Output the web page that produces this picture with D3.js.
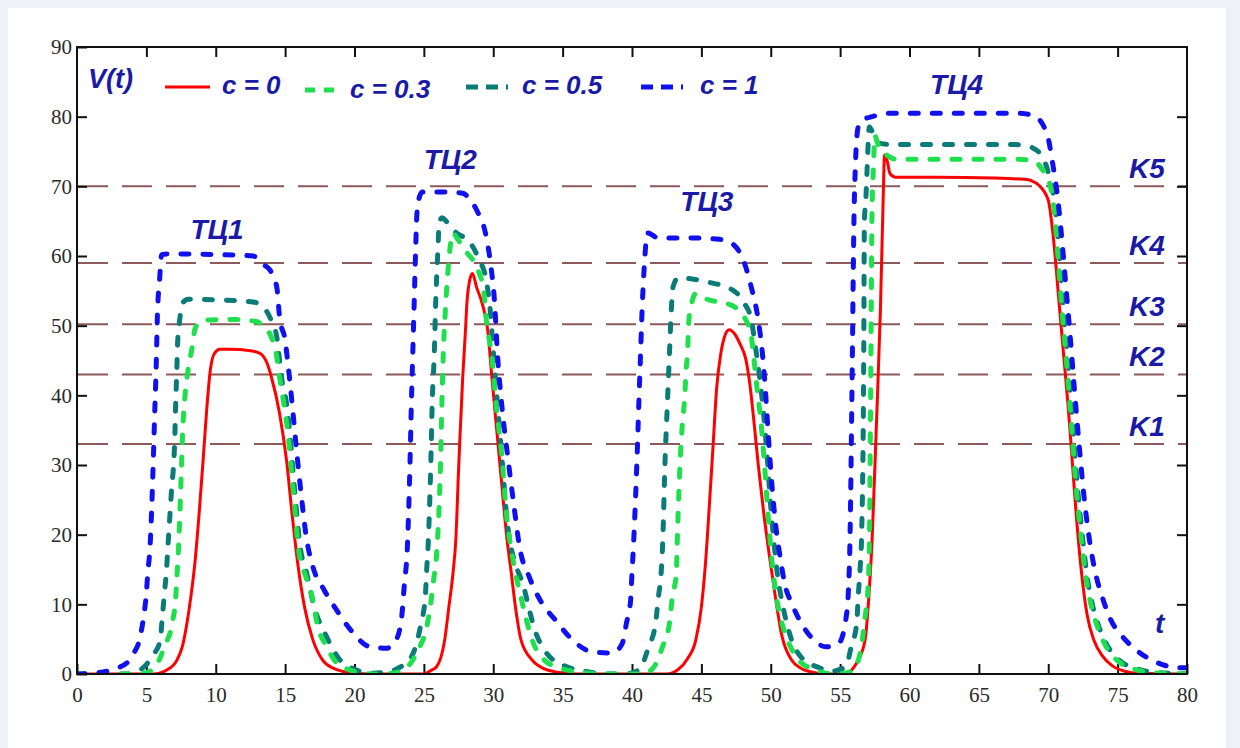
<!DOCTYPE html>
<html><head><meta charset="utf-8">
<script src="https://cdn.jsdelivr.net/npm/d3@7"></script>
<style>
html,body{margin:0;padding:0;background:#eef2f8;}
svg{display:block;}
</style></head>
<body>
<svg id="chart" width="1240" height="748"></svg>
<script>
// ---- data ----
const seriesNames = ["c = 0", "c = 0.3", "c = 0.5", "c = 1"];

const tRed = [0,5.5,6.5,7.2,7.6,7.9,8.2,8.5,8.8,9.1,9.35,9.6,9.9,10.3,11,12.5,13.2,13.7,14.0,14.6,15.1,15.5,15.9,16.4,17.0,17.7,18.5,19.1,20,21,
  25.0,25.5,25.9,26.5,26.8,27.1,27.3,27.5,27.6,27.8,28.0,28.1,28.3,28.5,28.8,29.2,29.6,29.9,30.3,30.6,31.0,31.3,31.6,32.0,32.8,33.6,34.5,36,
  42.5,43.3,44.0,44.6,45.0,45.3,45.6,45.85,46.1,46.4,46.7,47.0,47.4,47.8,48.2,48.5,48.8,49.1,49.5,49.9,50.3,50.8,51.5,52.2,52.9,54,
  55.4,56.0,56.3,56.8,57.1,57.3,57.6,57.9,58.1,58.2,58.35,58.6,59.0,62,66,68.3,68.8,69.3,70.0,70.4,70.75,71.1,71.45,71.75,72.05,72.4,72.8,73.3,73.9,74.6,75.5,76.5,80];
const vRed = [0,0,0.6,2,4,7,11,16,23,31,38,43.5,46,46.6,46.6,46.4,46,44.6,42.7,37.4,30.7,23,16,9.6,4.9,2,0.8,0.4,0.1,0,
  0,0.5,1,4.9,9.6,14.5,19.2,29.3,34,42.6,49.4,53.2,56.5,57.5,55.5,53.2,49.4,42.6,34,27.5,19.2,14.5,9.6,4.9,2,0.8,0.3,0,
  0,0.6,2.2,4.9,9.6,16,25,33,41,46,48.6,49.4,48.8,47.3,45.2,41.5,36,30,23,17,11.5,5.5,2,0.8,0.3,0,
  0,1,2,4.9,12,19,35,52,68,74.5,74,71.8,71.3,71.3,71.2,71.0,70.8,70.2,68,62,54,46,38,30,22,14.5,8.5,4.8,2.6,1.2,0.4,0.1,0];

const tGreen = [0,4.5,5.0,5.6,6.3,6.9,7.1,7.2,7.3,7.5,7.6,7.8,8.0,8.3,8.5,8.9,9.3,11,12.9,13.5,14.0,14.4,14.6,14.9,15.2,15.6,16.0,16.5,17.0,17.3,18.0,18.7,19.5,20.1,21,22,
  23.2,24.2,24.7,25.2,25.5,25.7,25.9,26.2,26.3,26.4,26.55,26.65,26.8,27.1,27.4,28.1,28.8,29.3,29.5,29.9,30.2,30.6,31.0,31.3,31.6,32.0,32.4,32.8,33.5,34.7,36.2,38,
  40.5,41.4,42.2,42.7,42.9,43.2,43.25,43.5,43.65,43.8,43.9,44.0,44.1,44.3,44.6,45.4,46.5,47.2,48.1,48.6,48.8,49.0,49.3,49.55,49.8,50.05,50.3,50.6,51.0,51.5,52.1,52.9,53.8,54.5,
  55.5,56.1,56.6,56.8,57.0,57.1,57.2,57.3,57.4,57.5,57.7,58.0,58.5,59,67.6,68.5,69.1,69.5,70.1,70.4,70.7,71.0,71.35,71.7,72.0,72.35,72.7,73.1,73.6,74.3,75.2,76.2,77.5,80];
const vGreen = [0,0,0.2,0.9,3.9,7.7,10.6,13.9,17.4,28,34,40.3,43.6,46.9,49.5,50.6,50.8,50.9,50.6,49.8,48.4,45.5,42.6,38.9,34.6,26,17.4,13.9,10.6,7.3,3.9,1.6,0.7,0.3,0.05,0,
  0.3,2,3.9,6.7,10.2,13.5,16.8,30.3,38.9,46,52.2,55.5,59.4,63.3,62.5,60.5,58.4,55.1,50.8,45.5,38.9,31.7,22,17.8,14.5,11,7.7,4.9,2.4,0.9,0.3,0,
  0,0.6,3.9,7.3,11,14.5,18.2,31.7,36.4,39.7,43.6,46,50.8,53.2,54.6,53.8,53.3,52.9,51.2,48.4,45,41.2,36,30,23,17,12.5,9,6,3.6,1.8,0.8,0.2,0,
  0.2,1,4.9,8.2,12.1,17.8,40,66.6,72.7,77.3,76.2,75.2,74.3,73.9,73.9,73.8,73.5,72.6,70.4,67,60,52,44,35,27,20,14,9.8,6.5,3.5,1.6,0.7,0.2,0];

const tTeal = [0,3.8,4.5,5.1,5.6,6.0,6.15,6.3,6.45,6.55,6.8,7.05,7.1,7.2,7.25,7.4,7.6,8.0,10,12.7,13.5,13.9,14.4,14.6,14.8,15.1,15.3,15.7,16.1,16.5,17.1,18.0,18.8,20.1,21,
  22.3,23.7,24.4,24.8,25.1,25.2,25.3,25.5,25.6,25.75,25.85,26.0,26.1,26.3,26.7,27.3,28.3,29.0,29.5,29.8,30.0,30.3,30.6,31.0,31.2,31.5,32.2,32.6,33.0,33.7,35.0,36.9,38.5,39.5,
  40.5,41.2,41.7,41.9,42.1,42.2,42.4,42.5,42.6,42.7,42.8,42.95,43.3,43.6,45.8,47.0,48.1,48.6,48.9,49.2,49.5,49.75,50.0,50.25,50.5,50.8,51.1,51.5,52.2,53.5,54.3,
  55.4,55.8,56.2,56.3,56.45,56.55,56.7,56.75,56.85,56.95,57.1,57.4,57.8,58.7,67.6,68.2,68.8,69.4,69.9,70.2,70.5,70.8,71.1,71.45,71.8,72.1,72.45,72.8,73.2,73.7,74.4,75.3,76.3,77.5,80];
const vTeal = [0,0,0.5,1.6,3,4.9,8.2,11.6,14.9,18.2,26,34,37.9,44,47.5,50.8,53.2,53.8,53.7,53.4,52.5,51.2,48.4,45,41.7,38.9,35.4,26,18,14.9,9.6,5.3,2.4,0.6,0.1,
  0.3,1.6,3.9,7.3,11,14.9,18.2,30.3,38.9,46,53.2,60.4,64.5,65.5,64.8,63.4,62,59.4,56.5,51.8,46.5,38.9,31.7,22,19,16.4,12.5,9.2,6.3,3.4,1.3,0.3,0,0,
  0.6,3.9,7.3,11,14.5,18.2,31.7,36.4,41.2,46,50.8,55.5,56.8,56.8,56.1,55.4,53.2,50.8,46.9,42.6,37,31,24,18.5,14,10.5,7.7,4.9,2.4,0.9,0.4,
  1,3.9,7.3,11,15.4,20,45,65.1,68,72.7,78.5,77.5,76.2,76,76,75.9,75.6,74.7,72.7,70.4,67,60,52,44,35,27,20,14,9.8,6.5,3.6,1.7,0.8,0.3,0];

const tBlue = [0,1.0,1.9,2.8,3.6,4.1,4.5,4.8,5.0,5.1,5.25,5.5,5.6,5.7,5.8,5.95,6.1,6.5,10,12.7,13.5,13.9,14.4,14.6,15.0,15.2,15.5,15.8,16.2,16.5,17.0,17.8,18.7,19.9,21.1,22.3,
  23.0,23.4,23.6,23.8,24.0,24.1,24.2,24.3,24.4,24.5,24.7,24.9,26.5,27.8,28.3,28.8,29.5,29.8,30.1,30.3,30.6,31.1,31.5,31.9,32.6,33.5,34.5,35.7,37.1,38.6,
  39.3,39.6,39.9,40.0,40.1,40.4,40.5,40.6,40.7,40.8,40.9,41.1,41.9,44,46.3,47.2,48.1,48.6,49.1,49.4,49.6,49.8,50.05,50.35,50.7,51.0,51.5,52.2,52.9,54.0,
  54.9,55.4,55.6,55.7,55.85,56.0,56.1,56.3,56.6,57.3,58.7,67.6,68.9,69.9,70.3,70.7,71.0,71.3,71.6,71.9,72.2,72.55,72.95,73.4,73.9,74.5,75.3,76.5,77.9,79.4,80];
const vBlue = [0,0.1,0.3,0.8,1.6,3,4.9,8.2,11.6,14.5,17.8,30.7,37.4,43.6,51.8,56.5,60.2,60.3,60.2,60,58.7,58,55.5,51.2,47.9,44.6,38.9,32.6,25,20,15.4,12.1,9.2,5.9,3.9,3.7,
  4.9,8.2,13,17.8,30.3,38.9,46,53.2,60.4,66.1,68.6,69.2,69.2,69,68.2,66.6,62.7,59,53.2,46,38.9,30.3,24,18.2,13.9,10.2,7.7,4.9,3.2,3,
  4.4,7.3,10.6,14.5,18.2,33.1,39.3,45,50.8,55.5,59,63.3,62.6,62.6,62.4,61.8,59,55.5,50.8,46,41.2,35,28,21.5,16.5,13,10.2,7.3,5.3,3.9,
  4.4,7.7,12.1,18.2,40,65.6,73,78.5,79.5,80,80.5,80.5,80.2,77.6,73.5,68,62,55,48,40.5,33.5,26,19.5,14.5,11,7.8,5.5,3.2,1.6,0.9,0.9];

const kValues = [33, 43, 50.2, 59, 70];
const kLabels = ["K1", "K2", "K3", "K4", "K5"];
const cycleLabels = ["ТЦ1", "ТЦ2", "ТЦ3", "ТЦ4"];
const cycleT = [10.2, 27.0, 45.5, 63.5];
const cycleV = [62.5, 72.5, 66.5, 83.3];
const xTicks = [0,5,10,15,20,25,30,35,40,45,50,55,60,65,70,75,80];
const yTicks = [0,10,20,30,40,50,60,70,80,90];

// ---- drawing ----
const svg = d3.select("#chart");
const W = 1240, H = 748;
const L = 77, R = 1187, T = 47, B = 674;
const textBlue = "#1a1aa6";

svg.append("rect").attr("x",0).attr("y",0).attr("width",W).attr("height",H).attr("fill","#eef2f8");
svg.append("rect").attr("x",8).attr("y",8).attr("width",1218).attr("height",H-8).attr("fill","#ffffff");

const x = d3.scaleLinear().domain([0,80]).range([L,R]);
const y = d3.scaleLinear().domain([0,90]).range([B,T]);

svg.append("clipPath").attr("id","plotclip")
  .append("rect").attr("x",L).attr("y",T-4).attr("width",R-L).attr("height",B-T+4);

// threshold lines
svg.append("g").selectAll("line").data(kValues).join("line")
  .attr("x1",L+1).attr("x2",R-1)
  .attr("y1",d=>y(d)).attr("y2",d=>y(d))
  .attr("stroke","#8c5a5a").attr("stroke-width",2)
  .attr("stroke-dasharray","30,14");

// axes
function styleAxis(g){
  g.select(".domain").remove();
  g.selectAll(".tick line").attr("stroke","#111").attr("stroke-width",2);
  g.selectAll(".tick text").attr("font-family","'Liberation Serif','Times New Roman',serif")
    .attr("font-size",21).attr("fill","#2a2a2a");
}
svg.append("g").attr("transform",`translate(0,${B})`)
  .call(d3.axisBottom(x).tickValues(xTicks).tickSizeInner(-10).tickSizeOuter(0).tickPadding(13))
  .call(styleAxis);
svg.append("g").attr("transform",`translate(0,${T})`)
  .call(d3.axisTop(x).tickValues(xTicks.slice(1,-1)).tickSizeInner(-10).tickSizeOuter(0).tickFormat(""))
  .call(styleAxis);
svg.append("g").attr("transform",`translate(${L},0)`)
  .call(d3.axisLeft(y).tickValues(yTicks).tickSizeInner(-10).tickSizeOuter(0).tickPadding(5))
  .call(styleAxis);
svg.append("g").attr("transform",`translate(${R},0)`)
  .call(d3.axisRight(y).tickValues(yTicks.slice(1,-1)).tickSizeInner(-10).tickSizeOuter(0).tickFormat(""))
  .call(styleAxis);

// series
const series = [
  {t:tRed,  v:vRed,  color:"#ff0000", width:3, dash:null},
  {t:tTeal, v:vTeal, color:"#0b7b78", width:5, dash:"8,14"},
  {t:tGreen,v:vGreen,color:"#1ee04c", width:5, dash:"8,14"},
  {t:tBlue, v:vBlue, color:"#1010f0", width:5, dash:"8,14"}
];
const line = d3.line().x(d=>x(d[0])).y(d=>y(d[1])).curve(d3.curveMonotoneX);
const gLines = svg.append("g").attr("clip-path","url(#plotclip)");
series.forEach(s=>{
  const pts = s.t.map((t,i)=>[t,s.v[i]]);
  const p = gLines.append("path").datum(pts).attr("d",line)
    .attr("fill","none").attr("stroke",s.color).attr("stroke-width",s.width)
    .attr("stroke-linejoin","round");
  if(s.dash){ p.attr("stroke-dasharray",s.dash).attr("stroke-linecap","round"); }
});

// frame
svg.append("rect").attr("x",L).attr("y",T).attr("width",R-L).attr("height",B-T)
  .attr("fill","none").attr("stroke","#111").attr("stroke-width",2);

// labels
const labelFont = "'Liberation Sans',Arial,sans-serif";
function lab(txt, px, py, size){
  return svg.append("text").attr("x",px).attr("y",py).text(txt)
    .attr("font-family",labelFont).attr("font-size",size||28)
    .attr("font-weight","bold").attr("font-style","italic").attr("fill",textBlue);
}
lab("V(t)", 88, 88, 27);
lab("t", 1155, 633);
kLabels.forEach((k,i)=>{ lab(k, 1129, y(kValues[i]) - 8); });
cycleLabels.forEach((c,i)=>{ lab(c, x(cycleT[i]) - 28, y(cycleV[i])); });

// legend
const legendX = [165, 305, 466, 641];
const legendTextX = [222, 350, 522, 700];
const legendDash = [null, "10,9,10,30", "12,8,12,8,2,30", "12,8,12,8,2,30"];
const legendColor = ["#ff0000","#1ee04c","#0b7b78","#1010f0"];
seriesNames.forEach((n,i)=>{
  const ly = i===1 ? 90 : 87;
  const ln = svg.append("line").attr("x1",legendX[i]).attr("x2",legendX[i]+(i===0?45:i===1?32:52))
    .attr("y1",ly).attr("y2",ly).attr("stroke",legendColor[i])
    .attr("stroke-width", i===0?3:5);
  if(legendDash[i]) ln.attr("stroke-dasharray",legendDash[i]);
  lab(n, legendTextX[i], i===1 ? 98 : 94, 26);
});
</script>
</body></html>
